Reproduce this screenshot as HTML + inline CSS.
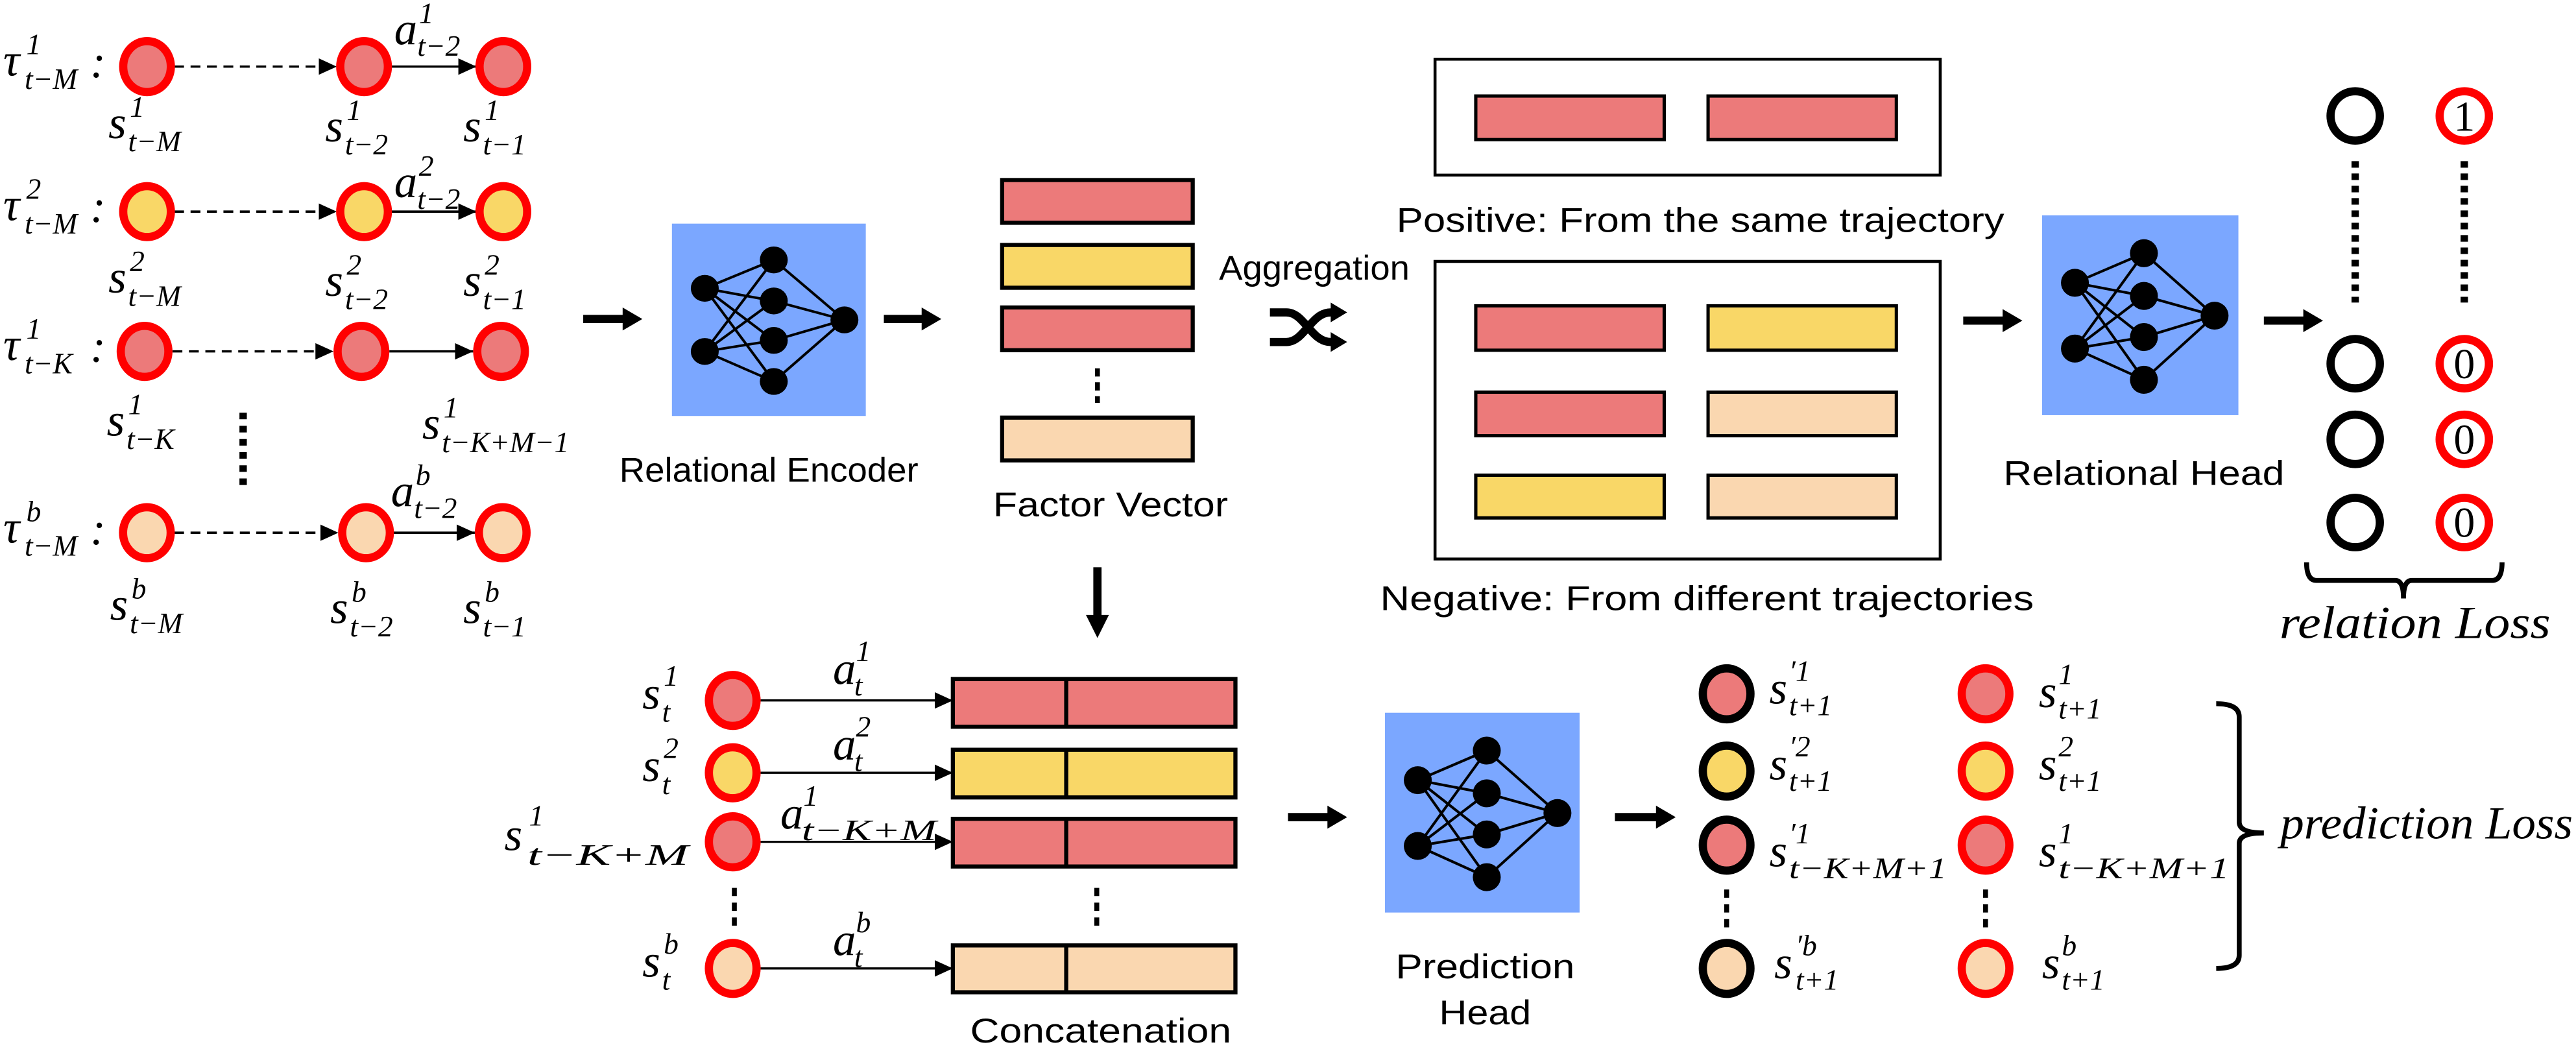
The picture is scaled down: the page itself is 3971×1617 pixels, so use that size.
<!DOCTYPE html>
<html><head><meta charset="utf-8"><style>
html,body{margin:0;padding:0;background:#fff;}
svg{display:block;}
.m{font-family:"Liberation Serif",serif;font-style:italic;font-size:28px;fill:#000;}
.ms{font-family:"Liberation Serif",serif;font-style:italic;font-size:18px;fill:#000;}
.t{font-family:"Liberation Sans",sans-serif;font-size:21px;fill:#000;}
.d{font-family:"Liberation Serif",serif;font-size:26px;fill:#000;}
.pk{fill:#EC7A7A;} .yl{fill:#F9D767;} .pc{fill:#FAD7B0;}
</style></head><body>
<svg width="3971" height="1617" viewBox="0 0 1568 638" preserveAspectRatio="none" xmlns="http://www.w3.org/2000/svg">
<defs>
<marker id="ah" markerWidth="11" markerHeight="10" refX="11" refY="5" orient="auto" markerUnits="userSpaceOnUse"><path d="M0,0 L11,5 L0,10z" fill="#000"/></marker>
<g id="net">
<g stroke="#000" stroke-width="1.6">
<line x1="20" y1="41" x2="62" y2="23"/><line x1="20" y1="41" x2="62" y2="49"/><line x1="20" y1="41" x2="62" y2="74"/><line x1="20" y1="41" x2="62" y2="100"/>
<line x1="20" y1="81" x2="62" y2="23"/><line x1="20" y1="81" x2="62" y2="49"/><line x1="20" y1="81" x2="62" y2="74"/><line x1="20" y1="81" x2="62" y2="100"/>
<line x1="62" y1="23" x2="105" y2="61"/><line x1="62" y1="49" x2="105" y2="61"/><line x1="62" y1="74" x2="105" y2="61"/><line x1="62" y1="100" x2="105" y2="61"/>
</g>
<g fill="#000">
<ellipse cx="20" cy="41" rx="8.5" ry="8.5"/><ellipse cx="20" cy="81" rx="8.5" ry="8.5"/>
<ellipse cx="62" cy="23" rx="8.5" ry="8.5"/><ellipse cx="62" cy="49" rx="8.5" ry="8.5"/><ellipse cx="62" cy="74" rx="8.5" ry="8.5"/><ellipse cx="62" cy="100" rx="8.5" ry="8.5"/>
<ellipse cx="105" cy="61" rx="8.5" ry="8.5"/>
</g>
</g>
</defs>

<!-- ===== Left trajectories ===== -->
<g stroke="#000" stroke-width="1.4" fill="none">
<line x1="106" y1="40.5" x2="205" y2="40.5" stroke-dasharray="6,4" marker-end="url(#ah)"/>
<line x1="238" y1="40.5" x2="290" y2="40.5" marker-end="url(#ah)"/>
<line x1="106" y1="128.7" x2="205" y2="128.7" stroke-dasharray="6,4" marker-end="url(#ah)"/>
<line x1="238" y1="128.7" x2="290" y2="128.7" marker-end="url(#ah)"/>
<line x1="105" y1="213.7" x2="203" y2="213.7" stroke-dasharray="6,4" marker-end="url(#ah)"/>
<line x1="237" y1="213.7" x2="288" y2="213.7" marker-end="url(#ah)"/>
<line x1="106" y1="324" x2="206" y2="324" stroke-dasharray="6,4" marker-end="url(#ah)"/>
<line x1="239" y1="324" x2="289" y2="324" marker-end="url(#ah)"/>
</g>
<g stroke="#FF0000" stroke-width="5">
<ellipse class="pk" cx="89.5" cy="40.5" rx="14.5" ry="15.5"/><ellipse class="pk" cx="221.6" cy="40.5" rx="14.5" ry="15.5"/><ellipse class="pk" cx="306.4" cy="40.5" rx="14.5" ry="15.5"/>
<ellipse class="yl" cx="89.5" cy="128.7" rx="14.5" ry="15.5"/><ellipse class="yl" cx="221.6" cy="128.7" rx="14.5" ry="15.5"/><ellipse class="yl" cx="306.4" cy="128.7" rx="14.5" ry="15.5"/>
<ellipse class="pk" cx="88" cy="213.7" rx="14.5" ry="15.5"/><ellipse class="pk" cx="220" cy="213.7" rx="14.5" ry="15.5"/><ellipse class="pk" cx="305" cy="213.7" rx="14.5" ry="15.5"/>
<ellipse class="pc" cx="89.4" cy="324" rx="14.5" ry="15.5"/><ellipse class="pc" cx="222.8" cy="324" rx="14.5" ry="15.5"/><ellipse class="pc" cx="306" cy="324" rx="14.5" ry="15.5"/>
</g>
<line x1="148" y1="251" x2="148" y2="295" stroke="#000" stroke-width="4.5" stroke-dasharray="4,4"/>

<!-- tau labels -->
<text class="m" x="2" y="46">τ</text><text class="ms" x="16" y="33">1</text><text class="ms" x="15" y="54">t−M</text><text class="m" x="55" y="47">:</text>
<text class="m" x="2" y="134">τ</text><text class="ms" x="16" y="121">2</text><text class="ms" x="15" y="142">t−M</text><text class="m" x="55" y="135">:</text>
<text class="m" x="2" y="219">τ</text><text class="ms" x="16" y="206">1</text><text class="ms" x="15" y="227">t−K</text><text class="m" x="55" y="220">:</text>
<text class="m" x="2" y="330">τ</text><text class="ms" x="16" y="317">b</text><text class="ms" x="15" y="338">t−M</text><text class="m" x="55" y="331">:</text>
<!-- a labels -->
<text class="m" x="240" y="27">a</text><text class="ms" x="255" y="14">1</text><text class="ms" x="254" y="34">t−2</text>
<text class="m" x="240" y="120">a</text><text class="ms" x="255" y="107">2</text><text class="ms" x="254" y="127">t−2</text>
<text class="m" x="238" y="308">a</text><text class="ms" x="253" y="295">b</text><text class="ms" x="252" y="315">t−2</text>
<!-- s labels -->
<text class="m" x="66" y="84">s</text><text class="ms" x="79" y="71">1</text><text class="ms" x="78" y="92">t−M</text>
<text class="m" x="198" y="86">s</text><text class="ms" x="211" y="73">1</text><text class="ms" x="210" y="94">t−2</text>
<text class="m" x="282" y="86">s</text><text class="ms" x="295" y="73">1</text><text class="ms" x="294" y="94">t−1</text>
<text class="m" x="66" y="178">s</text><text class="ms" x="79" y="165">2</text><text class="ms" x="78" y="186">t−M</text>
<text class="m" x="198" y="180">s</text><text class="ms" x="211" y="167">2</text><text class="ms" x="210" y="188">t−2</text>
<text class="m" x="282" y="180">s</text><text class="ms" x="295" y="167">2</text><text class="ms" x="294" y="188">t−1</text>
<text class="m" x="65" y="265">s</text><text class="ms" x="78" y="252">1</text><text class="ms" x="77" y="273">t−K</text>
<text class="m" x="257" y="267">s</text><text class="ms" x="270" y="254">1</text><text class="ms" x="269" y="275">t−K+M−1</text>
<text class="m" x="67" y="377">s</text><text class="ms" x="80" y="364">b</text><text class="ms" x="79" y="385">t−M</text>
<text class="m" x="201" y="379">s</text><text class="ms" x="214" y="366">b</text><text class="ms" x="213" y="387">t−2</text>
<text class="m" x="282" y="379">s</text><text class="ms" x="295" y="366">b</text><text class="ms" x="294" y="387">t−1</text>

<!-- thick arrows -->
<g fill="#000">
<polygon points="355,191.5 379,191.5 379,187 391,194 379,201 379,196.5 355,196.5"/>
<polygon points="538,191.5 561,191.5 561,187 573,194 561,201 561,196.5 538,196.5"/>
<polygon points="1195,192.5 1219,192.5 1219,188 1231,195 1219,202 1219,197.5 1195,197.5"/>
<polygon points="1378,192.5 1402,192.5 1402,188 1414,195 1402,202 1402,197.5 1378,197.5"/>
<polygon points="784,494.5 808,494.5 808,490 820,497 808,504 808,499.5 784,499.5"/>
<polygon points="983,494.5 1008,494.5 1008,490 1020,497 1008,504 1008,499.5 983,499.5"/>
<polygon points="665.5,345 670.5,345 670.5,374 675,374 668,388 661,374 665.5,374"/>
</g>

<!-- encoder -->
<rect x="409" y="136" width="118" height="117" fill="#7BA7FF"/>
<use href="#net" transform="translate(409,136) scale(1,0.96)"/>
<text class="t" x="468" y="293" text-anchor="middle" textLength="182" lengthAdjust="spacingAndGlyphs">Relational Encoder</text>

<!-- factor vector -->
<g stroke="#000" stroke-width="2.5">
<rect class="pk" x="610" y="109.5" width="116" height="26"/>
<rect class="yl" x="610" y="149" width="116" height="26"/>
<rect class="pk" x="610" y="187" width="116" height="26"/>
<rect class="pc" x="610" y="254" width="116" height="26"/>
</g>
<line x1="668" y1="224" x2="668" y2="245" stroke="#000" stroke-width="3" stroke-dasharray="5,3.5"/>
<text class="t" x="676" y="314" text-anchor="middle" textLength="143" lengthAdjust="spacingAndGlyphs">Factor Vector</text>

<!-- aggregation -->
<text class="t" x="742" y="170" font-size="19" textLength="116" lengthAdjust="spacingAndGlyphs">Aggregation</text>
<g stroke="#000" stroke-width="5" fill="none">
<path d="M773,190 L783,190 C794,190 798,208 810,208 L812,208"/>
<path d="M773,208 L783,208 C794,208 798,190 810,190 L812,190"/>
</g>
<polygon points="810,184 820,190 810,196" fill="#000"/>
<polygon points="810,202 820,208 810,214" fill="#000"/>

<!-- positive / negative -->
<rect x="873.5" y="36" width="307.5" height="70.5" fill="#fff" stroke="#000" stroke-width="1.8"/>
<g stroke="#000" stroke-width="2">
<rect class="pk" x="898.3" y="58.4" width="114.7" height="26.5"/>
<rect class="pk" x="1039.7" y="58.4" width="114.6" height="26.5"/>
</g>
<text class="t" x="1035" y="141" text-anchor="middle" font-size="22" textLength="370" lengthAdjust="spacingAndGlyphs">Positive: From the same trajectory</text>
<rect x="873.5" y="159" width="307.5" height="181" fill="#fff" stroke="#000" stroke-width="1.8"/>
<g stroke="#000" stroke-width="2">
<rect class="pk" x="898.3" y="186" width="114.7" height="27"/>
<rect class="yl" x="1039.7" y="186" width="114.6" height="27"/>
<rect class="pk" x="898.3" y="238.5" width="114.7" height="26.5"/>
<rect class="pc" x="1039.7" y="238.5" width="114.6" height="26.5"/>
<rect class="yl" x="898.3" y="289" width="114.7" height="26"/>
<rect class="pc" x="1039.7" y="289" width="114.6" height="26"/>
</g>
<text class="t" x="1039" y="371" text-anchor="middle" font-size="22" textLength="398" lengthAdjust="spacingAndGlyphs">Negative: From different trajectories</text>

<!-- relational head -->
<rect x="1243" y="131" width="119.5" height="121.5" fill="#7BA7FF"/>
<use href="#net" transform="translate(1243,131)"/>
<text class="t" x="1305" y="295" text-anchor="middle" textLength="171" lengthAdjust="spacingAndGlyphs">Relational Head</text>

<!-- relation outputs -->
<g fill="#fff" stroke="#000" stroke-width="5">
<circle cx="1433.6" cy="70.5" r="15"/><circle cx="1433.6" cy="221.2" r="15"/><circle cx="1433.6" cy="267.2" r="15"/><circle cx="1433.6" cy="317.8" r="15"/>
</g>
<g fill="#fff" stroke="#FF0000" stroke-width="5">
<circle cx="1500" cy="70.5" r="15"/><circle cx="1500" cy="221.2" r="15"/><circle cx="1500" cy="267.2" r="15"/><circle cx="1500" cy="317.8" r="15"/>
</g>
<text class="d" x="1500" y="79.5" text-anchor="middle">1</text>
<text class="d" x="1500" y="230" text-anchor="middle">0</text>
<text class="d" x="1500" y="276" text-anchor="middle">0</text>
<text class="d" x="1500" y="326.5" text-anchor="middle">0</text>
<g stroke="#000" stroke-width="4.5" stroke-dasharray="4,3.5">
<line x1="1433.6" y1="98" x2="1433.6" y2="184"/><line x1="1500" y1="98" x2="1500" y2="184"/>
</g>
<path d="M1404,342 Q1404,353 1410,353 L1458,353 Q1463,353 1463,364 Q1463,353 1468,353 L1517,353 Q1523,353 1523,342" fill="none" stroke="#000" stroke-width="3"/>
<text class="m" x="1470" y="388" text-anchor="middle" textLength="165" lengthAdjust="spacingAndGlyphs">relation Loss</text>

<!-- bottom left -->
<g stroke="#000" stroke-width="1.3">
<line x1="463" y1="426" x2="580" y2="426" marker-end="url(#ah)"/>
<line x1="463" y1="470" x2="580" y2="470" marker-end="url(#ah)"/>
<line x1="463" y1="512" x2="580" y2="512" marker-end="url(#ah)"/>
<line x1="463" y1="589" x2="580" y2="589" marker-end="url(#ah)"/>
</g>
<g stroke="#FF0000" stroke-width="5">
<ellipse class="pk" cx="446" cy="426" rx="14.5" ry="15.5"/>
<ellipse class="yl" cx="446" cy="470" rx="14.5" ry="15.5"/>
<ellipse class="pk" cx="446" cy="512" rx="14.5" ry="15.5"/>
<ellipse class="pc" cx="446" cy="589" rx="14.5" ry="15.5"/>
</g>
<g stroke="#000" stroke-width="3" stroke-dasharray="5,4">
<line x1="447" y1="540" x2="447" y2="564"/><line x1="667.6" y1="540" x2="667.6" y2="564"/>
</g>
<g stroke="#000" stroke-width="2.5">
<rect class="pk" x="580" y="413" width="172" height="29"/>
<rect class="yl" x="580" y="456" width="172" height="29"/>
<rect class="pk" x="580" y="498" width="172" height="29"/>
<rect class="pc" x="580" y="575" width="172" height="28.5"/>
<line x1="649" y1="413" x2="649" y2="442"/><line x1="649" y1="456" x2="649" y2="485"/><line x1="649" y1="498" x2="649" y2="527"/><line x1="649" y1="575" x2="649" y2="603.5"/>
</g>
<text class="t" x="670" y="634" text-anchor="middle" textLength="159" lengthAdjust="spacingAndGlyphs">Concatenation</text>

<text class="m" x="391" y="431">s</text><text class="ms" x="404" y="417">1</text><text class="ms" x="403" y="439">t</text>
<text class="m" x="391" y="475">s</text><text class="ms" x="404" y="461">2</text><text class="ms" x="403" y="483">t</text>
<text class="m" x="307" y="517" font-size="31">s</text><text class="ms" x="322" y="502" font-size="20">1</text><text class="ms" x="321" y="526" font-size="20" textLength="98" lengthAdjust="spacingAndGlyphs">t−K+M</text>
<text class="m" x="391" y="594">s</text><text class="ms" x="404" y="580">b</text><text class="ms" x="403" y="602">t</text>
<text class="m" x="507" y="416">a</text><text class="ms" x="521" y="402">1</text><text class="ms" x="520" y="423">t</text>
<text class="m" x="507" y="462">a</text><text class="ms" x="521" y="448">2</text><text class="ms" x="520" y="469">t</text>
<text class="m" x="475" y="504">a</text><text class="ms" x="489" y="490">1</text><text class="ms" x="488" y="511" textLength="82" lengthAdjust="spacingAndGlyphs">t−K+M</text>
<text class="m" x="507" y="581">a</text><text class="ms" x="521" y="567">b</text><text class="ms" x="520" y="588">t</text>

<!-- prediction head -->
<rect x="843" y="433.5" width="118.5" height="121.5" fill="#7BA7FF"/>
<use href="#net" transform="translate(843,433.5)"/>
<text class="t" x="904" y="595" text-anchor="middle" textLength="109" lengthAdjust="spacingAndGlyphs">Prediction</text>
<text class="t" x="904" y="623" text-anchor="middle" textLength="56" lengthAdjust="spacingAndGlyphs">Head</text>

<!-- prediction outputs -->
<g stroke="#000" stroke-width="5">
<ellipse class="pk" cx="1051" cy="422" rx="14.5" ry="15.5"/>
<ellipse class="yl" cx="1051" cy="469" rx="14.5" ry="15.5"/>
<ellipse class="pk" cx="1051" cy="514" rx="14.5" ry="15.5"/>
<ellipse class="pc" cx="1051" cy="589" rx="14.5" ry="15.5"/>
</g>
<g stroke="#FF0000" stroke-width="5">
<ellipse class="pk" cx="1208.6" cy="422" rx="14.5" ry="15.5"/>
<ellipse class="yl" cx="1208.6" cy="469" rx="14.5" ry="15.5"/>
<ellipse class="pk" cx="1208.6" cy="514" rx="14.5" ry="15.5"/>
<ellipse class="pc" cx="1208.6" cy="589" rx="14.5" ry="15.5"/>
</g>
<g stroke="#000" stroke-width="3" stroke-dasharray="5,4">
<line x1="1051" y1="541" x2="1051" y2="566"/><line x1="1208.6" y1="541" x2="1208.6" y2="566"/>
</g>
<text class="m" x="1077" y="428">s</text><text class="ms" x="1089" y="414">′1</text><text class="ms" x="1089" y="435">t+1</text>
<text class="m" x="1077" y="474">s</text><text class="ms" x="1089" y="460">′2</text><text class="ms" x="1089" y="481">t+1</text>
<text class="m" x="1077" y="527">s</text><text class="ms" x="1089" y="513">′1</text><text class="ms" x="1089" y="534" textLength="96" lengthAdjust="spacingAndGlyphs">t−K+M+1</text>
<text class="m" x="1080" y="595">s</text><text class="ms" x="1093" y="581">′b</text><text class="ms" x="1093" y="602">t+1</text>
<text class="m" x="1241" y="430">s</text><text class="ms" x="1253" y="416">1</text><text class="ms" x="1253" y="437">t+1</text>
<text class="m" x="1241" y="474">s</text><text class="ms" x="1253" y="460">2</text><text class="ms" x="1253" y="481">t+1</text>
<text class="m" x="1241" y="527">s</text><text class="ms" x="1253" y="513">1</text><text class="ms" x="1253" y="534" textLength="104" lengthAdjust="spacingAndGlyphs">t−K+M+1</text>
<text class="m" x="1243" y="595">s</text><text class="ms" x="1255" y="581">b</text><text class="ms" x="1255" y="602">t+1</text>
<path d="M1349,428 Q1363,428 1363,436 L1363,500 Q1363,506.6 1378,506.6 Q1363,506.6 1363,513 L1363,581 Q1363,589 1349,589" fill="none" stroke="#000" stroke-width="3"/>
<text class="m" x="1388" y="510" textLength="178" lengthAdjust="spacingAndGlyphs">prediction Loss</text>
</svg>
</body></html>
